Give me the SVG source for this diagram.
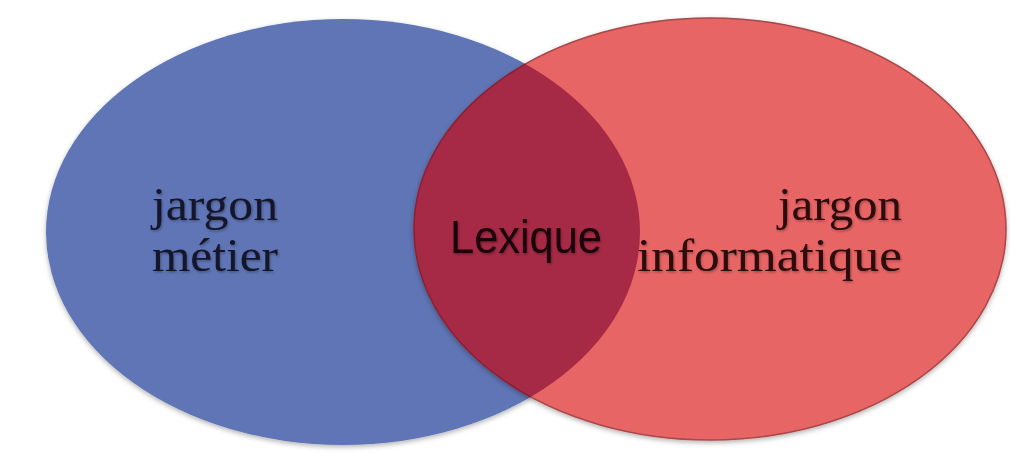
<svg xmlns="http://www.w3.org/2000/svg" width="1010" height="453" viewBox="0 0 1010 453">
  <defs>
    <filter id="soft" x="-10%" y="-10%" width="120%" height="120%">
      <feDropShadow dx="0" dy="2" stdDeviation="2.5" flood-color="#000" flood-opacity="0.3"/>
    </filter>
    <filter id="tshadow" x="-10%" y="-20%" width="120%" height="140%">
      <feDropShadow dx="1" dy="1.5" stdDeviation="1" flood-color="#000" flood-opacity="0.3"/>
    </filter>
    <clipPath id="blueClip">
      <ellipse cx="343" cy="232" rx="297" ry="213"/>
    </clipPath>
    <style>
      .serif { font-family: "Liberation Serif", "DejaVu Serif", serif; font-size: 46px; fill: #14142a; }
      .serifR { font-family: "Liberation Serif", "DejaVu Serif", serif; font-size: 46px; fill: #2a0808; }
      .sans { font-family: "Liberation Sans", Arial, sans-serif; font-size: 46px; fill: #1a0508; }
    </style>
  </defs>
  <rect width="1010" height="453" fill="#ffffff"/>

  <g id="node-metier">
    <ellipse cx="343" cy="232" rx="297" ry="213" fill="#5E75B5" filter="url(#soft)"/>
  </g>
  <g id="node-informatique">
    <ellipse cx="710" cy="229" rx="296" ry="211" fill="#E86566" stroke="#A84848" stroke-width="1.5" filter="url(#soft)"/>
  </g>
  <g id="node-lexique">
    <ellipse cx="710" cy="229" rx="296" ry="211" fill="#A62A45" stroke="#8A2036" stroke-width="1.5" clip-path="url(#blueClip)"/>
  </g>

  <g id="connectors"></g>

  <g id="labels" filter="url(#tshadow)">
    <text class="serif" x="152" y="220" textLength="126" lengthAdjust="spacingAndGlyphs">jargon</text>
    <text class="serif" x="152" y="271" textLength="126" lengthAdjust="spacingAndGlyphs">métier</text>
    <text class="sans" x="450" y="253" textLength="152" lengthAdjust="spacingAndGlyphs">Lexique</text>
    <text class="serifR" x="902" y="220" text-anchor="end" textLength="124" lengthAdjust="spacingAndGlyphs">jargon</text>
    <text class="serifR" x="902" y="271" text-anchor="end" textLength="265" lengthAdjust="spacingAndGlyphs">informatique</text>
  </g>
</svg>
